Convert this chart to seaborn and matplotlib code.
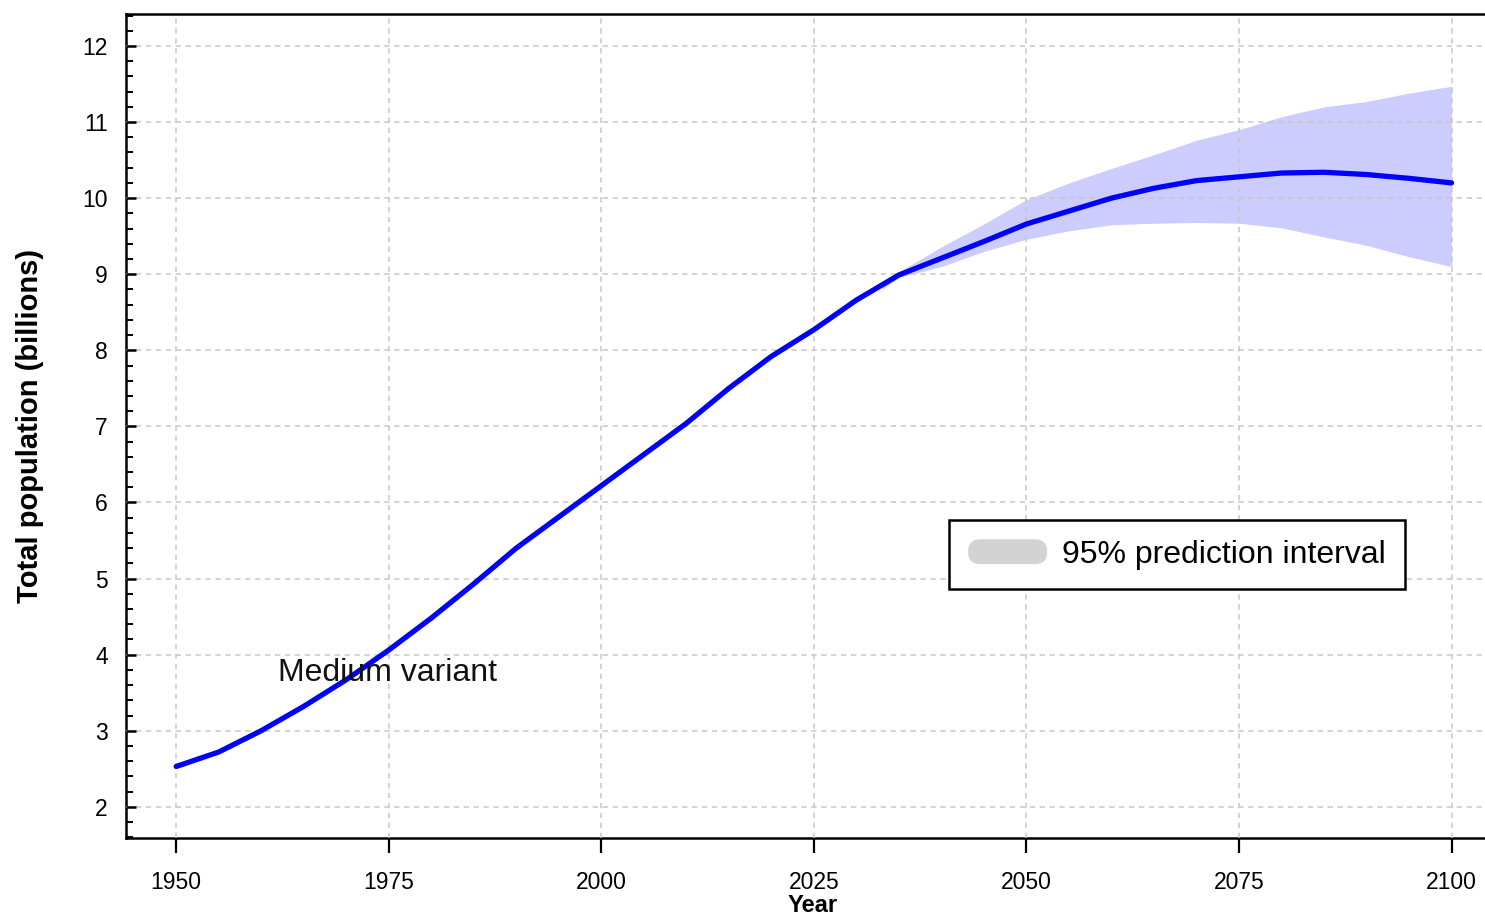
import numpy as np
import pandas as pd
import matplotlib
matplotlib.use("Agg")
import matplotlib.pyplot as plt
import seaborn as sns
from matplotlib.patches import Patch, FancyBboxPatch
from matplotlib.legend_handler import HandlerPatch
from matplotlib.ticker import MultipleLocator

# medium variant (billions)
years = [1950, 1955, 1960, 1965, 1970, 1975, 1980, 1985, 1990, 1995, 2000,
         2005, 2010, 2015, 2020, 2025, 2030, 2035, 2040, 2045, 2050, 2055,
         2060, 2065, 2070, 2075, 2080, 2085, 2090, 2095, 2100]
medium = [2.53, 2.72, 3.00, 3.32, 3.67, 4.06, 4.48, 4.93, 5.40, 5.81, 6.22,
          6.63, 7.04, 7.50, 7.92, 8.27, 8.66, 8.99, 9.21, 9.43, 9.66, 9.83,
          10.00, 10.13, 10.23, 10.28, 10.33, 10.34, 10.31, 10.26, 10.20]

# 95% prediction interval
pi_years = [2033, 2035, 2040, 2045, 2050, 2055, 2060, 2065, 2070, 2075,
            2080, 2085, 2090, 2095, 2100]
pi_lower = [8.80, 8.96, 9.10, 9.30, 9.46, 9.57, 9.65, 9.67, 9.68, 9.67,
            9.61, 9.49, 9.38, 9.23, 9.10]
pi_upper = [8.83, 9.03, 9.36, 9.66, 9.98, 10.20, 10.39, 10.57, 10.76, 10.90,
            11.07, 11.20, 11.27, 11.38, 11.47]

df = pd.DataFrame({"Year": years, "Population": medium})

sns.set_style("white")
plt.rcParams["font.family"] = ["Liberation Sans", "DejaVu Sans"]
for k in ["text.color", "axes.labelcolor", "xtick.color", "ytick.color"]:
    plt.rcParams[k] = "black"

fig = plt.figure(figsize=(14.85, 9.19), dpi=100)
ax = fig.add_axes([126/1485, 1 - 838/919, 1374/1485, 824/919])

ax.fill_between(pi_years, pi_lower, pi_upper, color="#ccccff", lw=0, zorder=1)
sns.lineplot(data=df, x="Year", y="Population", color="#0000ff", lw=3.8,
             ax=ax, zorder=3)

ax.set_xlim(1944.1, 2105.7)
ax.set_ylim(1.59, 12.42)
ax.set_xticks([1950, 1975, 2000, 2025, 2050, 2075, 2100])
ax.yaxis.set_major_locator(MultipleLocator(1))
ax.yaxis.set_minor_locator(MultipleLocator(0.2))
ax.set_yticks(range(2, 13))

ax.set_axisbelow(False)
ax.grid(True, which="major", color="#c8c8c8", ls=(0, (3.5, 3)), lw=1.1, zorder=2)

for s in ["left", "top", "bottom", "right"]:
    ax.spines[s].set_color("black")
    ax.spines[s].set_linewidth(1.8)

ax.tick_params(axis="x", direction="out", length=11, width=1.6, pad=13,
               labelsize=16.5, bottom=True)
ax.tick_params(axis="y", which="major", direction="in", length=7, width=1.8,
               pad=13, labelsize=16.5, left=True)
ax.tick_params(axis="y", which="minor", direction="in", length=5, width=1.4,
               left=True)

ax.set_xlabel("Year", fontsize=17, fontweight="bold", labelpad=0)
ax.set_ylabel("Total population (billions)", fontsize=21, fontweight="bold",
              labelpad=28)

ax.text(1962.0, 3.647, "Medium variant", fontsize=23, va="baseline",
        ha="left", color="#111111", zorder=4)


def rounded_handle(legend, orig_handle, xdescent, ydescent, width, height, fontsize):
    return FancyBboxPatch((-xdescent, -ydescent), width, height,
                          boxstyle="round,pad=0,rounding_size=%f" % (height / 2))


handle = Patch(facecolor="#d3d3d3", edgecolor="none")
leg = ax.legend([handle], ["95% prediction interval"], loc="center",
                bbox_to_anchor=(1177/1485, 1 - 554.5/919),
                bbox_transform=fig.transFigure, fontsize=23, frameon=True,
                fancybox=False, framealpha=1, edgecolor="black",
                borderpad=0.6, handlelength=2.48, handleheight=0.82,
                handletextpad=0.47,
                handler_map={Patch: HandlerPatch(patch_func=rounded_handle)})
leg.get_frame().set_linewidth(1.8)
leg.set_zorder(5)

fig.savefig("out.png", dpi=100)
